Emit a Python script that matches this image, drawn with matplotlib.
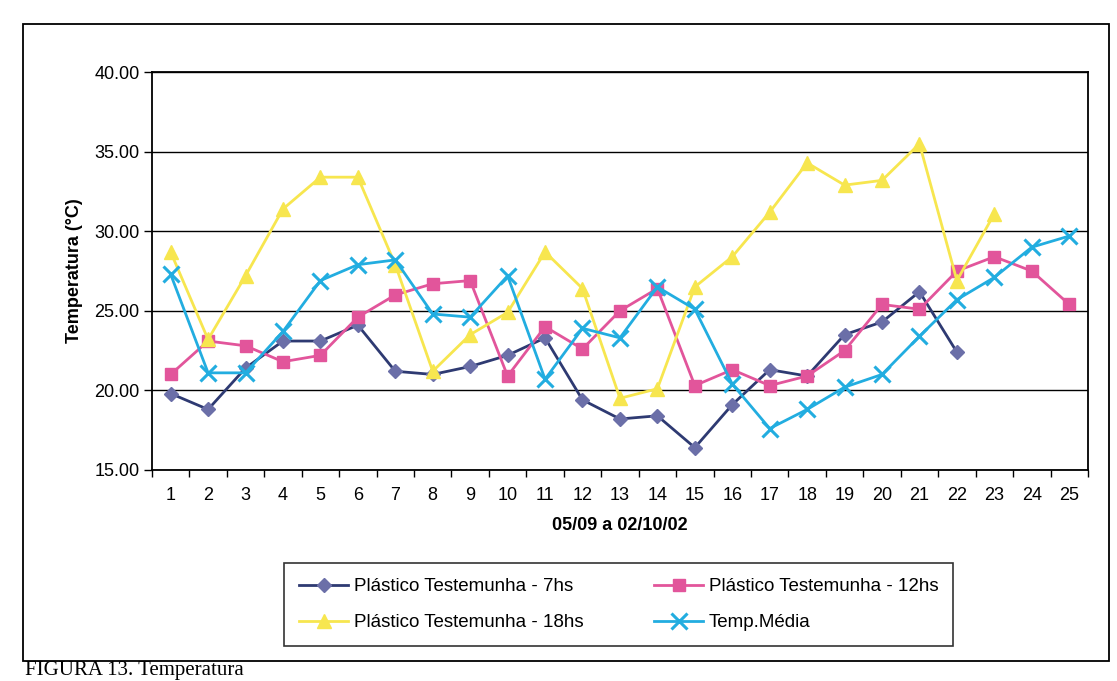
import matplotlib.pyplot as plt
import numpy as np
from matplotlib.patches import Rectangle

plt.rcParams['font.family'] = ['Liberation Sans', 'DejaVu Sans']

# ─── Data ───
dias = list(range(1, 26))

t_7hs = [19.8, 18.8, 21.4, 23.1, 23.1, 24.1, 21.2, 21.0, 21.5, 22.2,
         23.3, 19.4, 18.2, 18.4, 16.4, 19.1, 21.3, 20.9, 23.5, 24.3,
         26.2, 22.4]
t_12hs = [21.0, 23.1, 22.8, 21.8, 22.2, 24.6, 26.0, 26.7, 26.9, 20.9,
          24.0, 22.6, 25.0, 26.4, 20.3, 21.3, 20.3, 20.9, 22.5, 25.4,
          25.1, 27.5, 28.4, 27.5, 25.4]
t_18hs = [28.7, 23.2, 27.2, 31.4, 33.4, 33.4, 27.9, 21.2, 23.5, 24.9,
          28.7, 26.4, 19.5, 20.1, 26.5, 28.4, 31.2, 34.3, 32.9, 33.2,
          35.5, 26.9, 31.1]
t_media = [27.3, 21.1, 21.1, 23.7, 26.9, 27.9, 28.2, 24.8, 24.6, 27.2,
           20.7, 23.9, 23.3, 26.5, 25.1, 20.4, 17.6, 18.8, 20.2, 21.0,
           23.4, 25.7, 27.1, 29.0, 29.7]

labels = ['Plástico Testemunha - 7hs', 'Plástico Testemunha - 12hs',
          'Plástico Testemunha - 18hs', 'Temp.Média']

# ─── Colors ───
C_7 = '#2E3A72'
C_7M = '#6B6FA8'
C_12 = '#E2559B'
C_18 = '#F7E64F'
C_MED = '#22ADE0'

fig = plt.figure(figsize=(11.17, 6.81), dpi=100)
fig.patch.set_facecolor('white')

# outer chart-area frame
fig.add_artist(Rectangle((0.021, 0.03), 0.972, 0.935, transform=fig.transFigure,
                         fill=False, edgecolor='black', linewidth=1.3))

ax = fig.add_axes([0.136, 0.31, 0.838, 0.584])

h7, = ax.plot(dias[:len(t_7hs)], t_7hs, '-D', color=C_7, markerfacecolor=C_7M,
              markeredgecolor=C_7M, markersize=7, linewidth=2)
h12, = ax.plot(dias[:len(t_12hs)], t_12hs, '-s', color=C_12, markerfacecolor=C_12,
               markeredgecolor=C_12, markersize=9, linewidth=2)
h18, = ax.plot(dias[:len(t_18hs)], t_18hs, '-^', color=C_18, markerfacecolor=C_18,
               markeredgecolor=C_18, markersize=10, linewidth=2)
hm, = ax.plot(dias[:len(t_media)], t_media, '-x', color=C_MED, markersize=11,
              markeredgewidth=2.2, linewidth=2)

ax.set_xlim(0.5, 25.5)
ax.set_ylim(15, 40)
ax.set_yticks(np.arange(15, 41, 5))
ax.set_yticklabels([f'{v:.2f}' for v in np.arange(15, 41, 5)], fontsize=13)
ax.set_xticks(dias)
ax.set_xticklabels([str(d) for d in dias], fontsize=13)
ax.set_xticks(np.arange(0.5, 26, 1), minor=True)
ax.tick_params(axis='x', which='major', length=0, pad=12)
ax.tick_params(axis='x', which='minor', length=5, direction='out', width=1)
ax.tick_params(axis='y', length=6, direction='out', width=1, pad=3)

ax.yaxis.grid(True, color='black', linewidth=1.0)
ax.set_axisbelow(True)
for sp in ax.spines.values():
    sp.set_color('black')
    sp.set_linewidth(1.3)

ax.set_ylabel('Temperatura (°C)', fontsize=13, fontweight='bold', labelpad=8)
ax.set_xlabel('05/09 a 02/10/02', fontsize=13, fontweight='bold', labelpad=10)

# column-wise fill: 7hs / 18hs in first column, 12hs / média in second
leg = fig.legend([h7, h18, h12, hm], [labels[0], labels[2], labels[1], labels[3]],
                 loc='center', bbox_to_anchor=(0.554, 0.112), ncol=2,
                 fontsize=13.5, frameon=True, fancybox=False, edgecolor='black',
                 handlelength=2.6, columnspacing=3.8, labelspacing=1.0,
                 borderpad=0.8, handletextpad=0.3)
leg.get_frame().set_linewidth(1.2)

# caption of the page below the chart
fig.text(0.022, 0.001, 'FIGURA 13. Temperatura', fontsize=15, family='Liberation Serif',
         ha='left', va='bottom')

fig.savefig('out.png', dpi=100, facecolor='white')
